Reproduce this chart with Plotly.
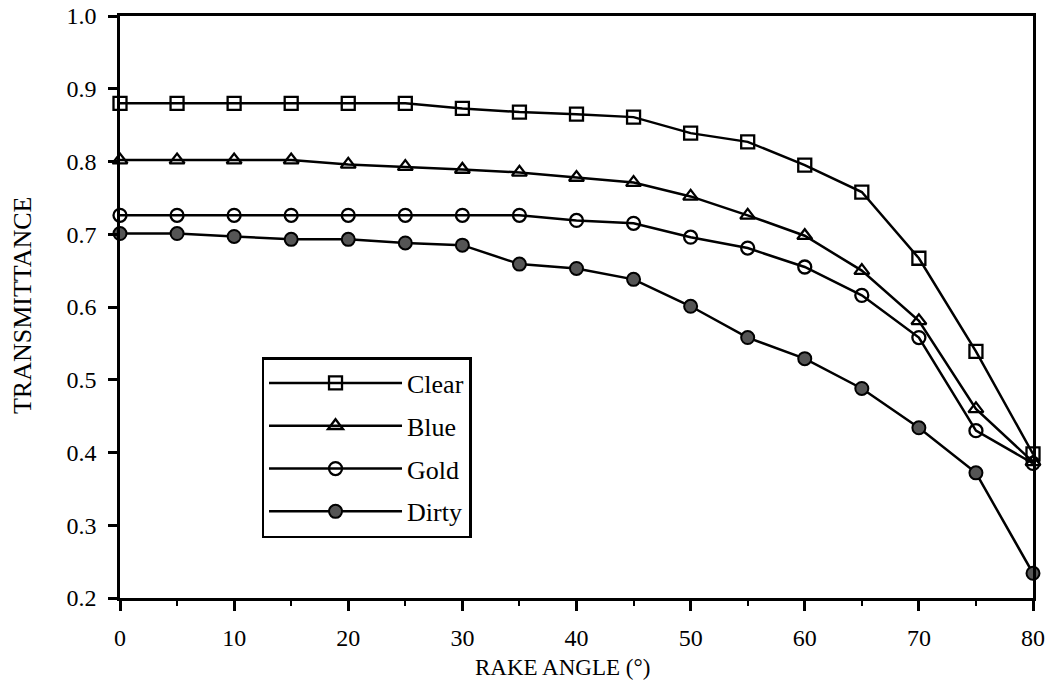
import plotly.graph_objects as go

angles = [0, 5, 10, 15, 20, 25, 30, 35, 40, 45, 50, 55, 60, 65, 70, 75, 80]
clear = [0.880, 0.880, 0.880, 0.880, 0.880, 0.880, 0.873, 0.868, 0.865, 0.861, 0.839, 0.827, 0.795, 0.758, 0.667, 0.539, 0.398]
blue = [0.802, 0.802, 0.802, 0.802, 0.796, 0.793, 0.789, 0.785, 0.778, 0.771, 0.752, 0.726, 0.698, 0.650, 0.581, 0.460, 0.387]
gold = [0.726, 0.726, 0.726, 0.726, 0.726, 0.726, 0.726, 0.726, 0.719, 0.715, 0.696, 0.681, 0.655, 0.616, 0.558, 0.430, 0.385]
dirty = [0.701, 0.701, 0.697, 0.693, 0.693, 0.688, 0.685, 0.659, 0.653, 0.638, 0.601, 0.558, 0.529, 0.488, 0.434, 0.372, 0.234]

x_ticks = [0, 10, 20, 30, 40, 50, 60, 70, 80]
x_minor = [5, 15, 25, 35, 45, 55, 65, 75]
y_ticks = [0.2, 0.3, 0.4, 0.5, 0.6, 0.7, 0.8, 0.9, 1.0]
y_labels = ["0.2", "0.3", "0.4", "0.5", "0.6", "0.7", "0.8", "0.9", "1.0"]

series = [
    ("Clear", clear, "square-open", "black"),
    ("Blue", blue, "triangle-up-open", "black"),
    ("Gold", gold, "circle-open", "black"),
    ("Dirty", dirty, "circle", "#555555"),
]

fig = go.Figure()
for i, (name, vals, sym, col) in enumerate(series):
    if sym == "circle":
        marker = dict(symbol="circle", size=13, color=col, line=dict(color="black", width=2))
    else:
        marker = dict(symbol=sym, size=13, color="black", line=dict(color="black", width=2.3))
    fig.add_trace(go.Scatter(
        x=angles, y=vals, name=name, mode="lines+markers",
        line=dict(color="black", width=2.5), marker=marker,
        cliponaxis=False, legendgroup=name,
    ))

font = "Liberation Serif, Times New Roman, serif"
fig.update_layout(
    width=1054, height=696,
    margin=dict(l=120, r=21, t=16, b=98),
    paper_bgcolor="white", plot_bgcolor="white",
    font=dict(family=font, color="black", size=24),
    showlegend=True,
    legend=dict(
        x=0.155, y=0.414, xanchor="left", yanchor="top",
        bordercolor="black", borderwidth=2.5, bgcolor="white",
        font=dict(family=font, size=26, color="black"),
        tracegroupgap=6, itemwidth=133,
    ),
    xaxis=dict(
        range=[0, 80], tickvals=x_ticks,
        ticks="outside", ticklen=10, tickwidth=2.5, tickcolor="black",
        minor=dict(tickvals=x_minor, ticks="outside", ticklen=5, tickwidth=2, tickcolor="black"),
        showline=True, linecolor="black", linewidth=2.5, mirror=True,
        showgrid=False, zeroline=False, automargin=False,
        tickfont=dict(family=font, size=24), ticklabelstandoff=6,
        ticklabeloverflow="allow",
    ),
    yaxis=dict(
        range=[0.2, 1.0], tickvals=y_ticks, ticktext=y_labels,
        ticks="outside", ticklen=9, tickwidth=2.5, tickcolor="black",
        showline=True, linecolor="black", linewidth=2.5, mirror=True,
        showgrid=False, zeroline=False, automargin=False,
        tickfont=dict(family=font, size=24), ticklabelstandoff=7,
        ticklabeloverflow="allow",
    ),
    annotations=[
        dict(text="RAKE ANGLE (°)", xref="paper", yref="paper", x=0.485, y=-0.120,
             xanchor="center", yanchor="middle", showarrow=False,
             font=dict(family=font, size=23, color="black")),
        dict(text="TRANSMITTANCE", xref="paper", yref="paper", x=-0.106, y=0.502,
             xanchor="center", yanchor="middle", showarrow=False, textangle=-90,
             font=dict(family=font, size=26, color="black")),
    ],
)

fig.write_html("out.html", config={"displayModeBar": False},
               post_script="document.body.style.margin='0';")
